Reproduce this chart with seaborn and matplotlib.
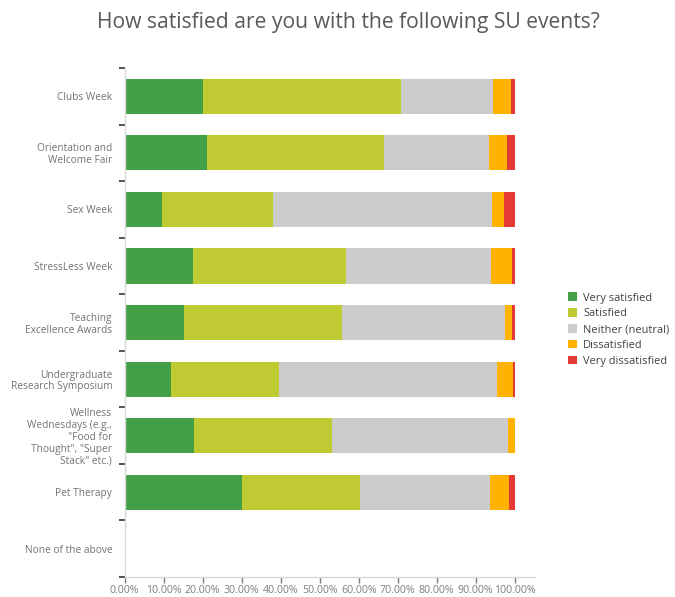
import matplotlib
matplotlib.use("Agg")
import matplotlib.pyplot as plt
import matplotlib.ticker as mticker
from matplotlib.patches import Patch
import numpy as np
import pandas as pd
import seaborn as sns

# Survey events (top to bottom)
events = [
    "Clubs Week",
    "Orientation and\nWelcome Fair",
    "Sex Week",
    "StressLess Week",
    "Teaching\nExcellence Awards",
    "Undergraduate\nResearch Symposium",
    "Wellness\nWednesdays (e.g.,\n\"Food for\nThought\", \"Super\nStack\" etc.)",
    "Pet Therapy",
    "None of the above",
]

# Share of responses per event (%)
very_satisfied = [20.2, 21.0, 9.6, 17.4, 15.2, 11.9, 17.7, 30.2, 0.0]
satisfied = [50.6, 45.6, 28.4, 39.4, 40.5, 27.7, 35.5, 30.0, 0.0]
neutral = [23.6, 26.7, 56.2, 37.1, 41.8, 55.9, 45.1, 33.4, 0.0]
dissatisfied = [4.7, 4.7, 3.0, 5.5, 1.9, 4.1, 1.7, 5.0, 0.0]
very_dissatisfied = [0.9, 2.0, 2.8, 0.6, 0.6, 0.4, 0.0, 1.4, 0.0]

responses = ["Very satisfied", "Satisfied", "Neither (neutral)",
             "Dissatisfied", "Very dissatisfied"]
colors = ["#43a047", "#c0ca33", "#cccccc", "#ffb300", "#e53935"]

series = [very_satisfied, satisfied, neutral, dissatisfied, very_dissatisfied]
df = pd.DataFrame({r: np.array(s) / 100.0 for r, s in zip(responses, series)})
cum = df[responses].cumsum(axis=1)
cum["event"] = events

sns.set_style("white")
plt.rcParams["font.family"] = ["Open Sans", "DejaVu Sans"]

fig = plt.figure(figsize=(6.75, 5.97), dpi=100)
ax = fig.add_axes([0.1847, 0.0335, 0.608, 0.8525])

# Stacked bars: draw cumulative totals from the outermost segment inward
for resp, col in reversed(list(zip(responses, colors))):
    sns.barplot(data=cum, x=resp, y="event", order=events, color=col,
                orient="h", width=0.62, saturation=1, ax=ax,
                edgecolor="none", linewidth=0)

ax.set_xlim(0, 1.052)
ax.set_ylim(len(events) - 0.5, -0.5)
ax.set_xlabel("")
ax.set_ylabel("")

ax.xaxis.set_major_locator(mticker.FixedLocator(np.arange(0, 1.01, 0.1)))
ax.xaxis.set_major_formatter(mticker.FuncFormatter(lambda v, p: f"{v*100:.2f}%"))
ax.tick_params(axis="x", which="major", length=4, width=1, color="#7f7f7f",
               labelsize=7.7, labelcolor="#7f7f7f", pad=2, direction="out", bottom=True)

# Category labels without tick marks; tick marks sit between categories
ax.set_yticks(range(len(events)))
ax.set_yticklabels(events, linespacing=1.1)
ax.tick_params(axis="y", which="major", length=0, labelsize=7.3,
               labelcolor="#737373", pad=9)
ax.yaxis.set_minor_locator(mticker.FixedLocator(np.arange(-0.5, len(events), 1.0)))
ax.tick_params(axis="y", which="minor", length=4, width=1.2, color="#333333",
               direction="out", left=True)

for s in ["top", "right"]:
    ax.spines[s].set_visible(False)
for s in ["left", "bottom"]:
    ax.spines[s].set_color("#d9d9d9")
    ax.spines[s].set_linewidth(1)

fig.text(0.516, 0.963, "How satisfied are you with the following SU events?",
         ha="center", va="center", fontsize=15.2, color="#595959")

handles = [Patch(facecolor=c, edgecolor="none", label=r)
           for r, c in zip(responses, colors)]
fig.legend(handles=handles, loc="center left", bbox_to_anchor=(0.835, 0.448),
           frameon=False, fontsize=7.9, labelcolor="#404040",
           handlelength=0.85, handleheight=0.85, handletextpad=0.55,
           labelspacing=0.42, borderaxespad=0)

fig.savefig("out.png", dpi=100)
